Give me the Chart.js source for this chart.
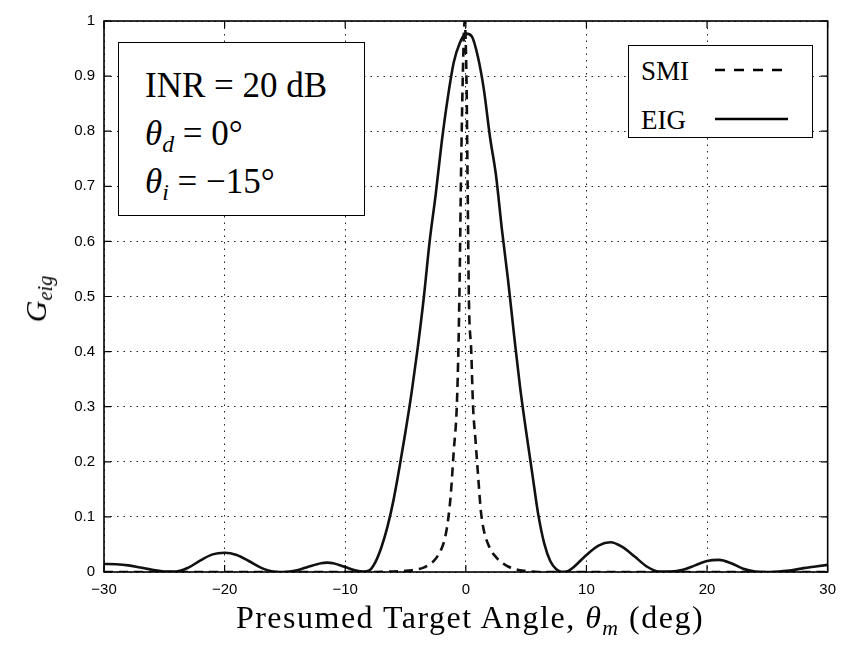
<!DOCTYPE html>
<html>
<head>
<meta charset="utf-8">
<script src="https://cdn.jsdelivr.net/npm/chart.js@4.4.1/dist/chart.umd.min.js"></script>
<style>
  body { margin: 0; background: #fff; }
  #wrap { position: relative; width: 845px; height: 649px; }
  #chart { position: absolute; left: 0; top: 0; }
  .box { position: absolute; background: #fff; border: 1.5px solid #000; box-sizing: border-box; }
  .txt { position: absolute; font-family: "Liberation Serif", "Times New Roman", serif; white-space: nowrap; color: #000; line-height: 1; }
  .txt sub { font-size: 0.68em; vertical-align: -0.3em; line-height: 0; }
</style>
</head>
<body>
<div id="wrap">
  <canvas id="chart" width="845" height="649"></canvas>

  <!-- parameter box, top left -->
  <div class="box" style="left:118px; top:42px; width:247px; height:174px;"></div>
  <div class="txt" style="left:145px; top:68px; font-size:35px;">INR = 20 dB</div>
  <div class="txt" style="left:145px; top:116px; font-size:35px;"><i>θ</i><sub><i>d</i></sub> = 0°</div>
  <div class="txt" style="left:145px; top:164px; font-size:35px;"><i>θ</i><sub><i>i</i></sub> = −15°</div>

  <!-- legend, top right -->
  <div class="box" style="left:628px; top:45px; width:185px; height:93px;"></div>
  <div class="txt" style="left:641px; top:58px; font-size:27px;">SMI</div>
  <div class="txt" style="left:641px; top:107px; font-size:27px;">EIG</div>
  <svg style="position:absolute; left:0; top:0;" width="845" height="649">
    <line x1="715" y1="70" x2="783" y2="70" stroke="#000" stroke-width="2.5" stroke-dasharray="10,9"/>
    <line x1="715" y1="119" x2="788" y2="119" stroke="#000" stroke-width="2.5"/>
  </svg>

  <!-- axis titles -->
  <div class="txt" style="left:0; width:940px; top:601px; font-size:32px; letter-spacing:1.5px; text-align:center;">Presumed Target Angle, <i>θ</i><sub><i>m</i></sub> (deg)</div>
  <div class="txt" style="left:36px; top:299px; font-size:30px; transform:translate(-50%,-50%) rotate(-90deg);"><i>G</i><sub><i>eig</i></sub></div>
</div>

<script>
// G_eig vs presumed target angle
var eigAngles = [-30, -29, -28, -27, -26, -25, -24, -23, -22, -21, -20, -19, -18, -17, -16, -15, -14, -13, -12, -11.5, -11, -10, -9, -8.5,
  -8, -7.5, -7, -6.5, -6, -5.5, -5, -4.5, -4, -3.5, -3, -2.5, -2, -1.5, -1, -0.5, 0, 0.5, 1, 1.5, 2, 2.5, 3, 3.5, 4, 4.5, 5, 5.5, 6, 6.5,
  7, 7.5, 8, 8.5, 9, 10, 11, 12, 13, 14, 15, 16, 17, 18, 19, 20, 21, 22, 23, 24, 25, 26, 27, 28, 29, 30]
var eigValues = [0.0145, 0.014, 0.012, 0.008, 0.004, 0.001, 0.001, 0.008, 0.021, 0.032, 0.035, 0.031, 0.02, 0.008, 0.001, 0.0, 0.003, 0.01, 0.016, 0.017, 0.016, 0.009, 0.002, 0.001,
  0.003, 0.018, 0.045, 0.082, 0.13, 0.19, 0.255, 0.325, 0.405, 0.495, 0.6, 0.685, 0.78, 0.86, 0.925, 0.96, 0.977, 0.972, 0.935, 0.875, 0.79, 0.72, 0.62, 0.53, 0.43, 0.335, 0.255, 0.18, 0.105, 0.052,
  0.02, 0.005, 0.0, 0.002, 0.01, 0.031, 0.048, 0.054, 0.045, 0.028, 0.01, 0.001, 0.001, 0.004, 0.012, 0.02, 0.022, 0.016, 0.006, 0.001, 0.0, 0.001, 0.003, 0.007, 0.01, 0.013]

var smiAngles = [-30, -8, -6, -5, -4.5, -4, -3.5, -3, -2.5, -2, -1.75, -1.5, -1.25, -1, -0.75, -0.6, -0.5, -0.4, -0.25, -0.1, 0.05, 0.15, 0.25,
  0.45, 0.6, 0.8, 1, 1.25, 1.5, 2, 2.5, 3, 3.5, 4, 4.5, 5, 6, 8, 30]
var smiValues = [0, 0, 0.001, 0.002, 0.003, 0.005, 0.008, 0.014, 0.024, 0.043, 0.06, 0.09, 0.14, 0.22, 0.3, 0.42, 0.55, 0.72, 0.9, 1.0, 0.9, 0.7, 0.5,
  0.4, 0.3, 0.24, 0.18, 0.11, 0.075, 0.043, 0.027, 0.017, 0.01, 0.006, 0.003, 0.002, 0, 0, 0]

var xTicks = [-30, -20, -10, 0, 10, 20, 30]
var yTicks = [0, 0.1, 0.2, 0.3, 0.4, 0.5, 0.6, 0.7, 0.8, 0.9, 1]

function toPoints(xs, ys) {
  return xs.map((x, i) => ({ x: x, y: ys[i] }))
}

// matlab style frame with inward ticks
var framePlugin = {
  id: "frame",
  afterDraw: (chart) => {
    var ctx = chart.ctx
    var a = chart.chartArea
    var xs = chart.scales.x
    var ys = chart.scales.y
    ctx.save()
    ctx.strokeStyle = "#000"
    ctx.lineWidth = 1.2
    ctx.beginPath()
    xTicks.forEach((t) => {
      var px = xs.getPixelForValue(t)
      ctx.moveTo(px, a.bottom)
      ctx.lineTo(px, a.bottom - 7)
      ctx.moveTo(px, a.top)
      ctx.lineTo(px, a.top + 7)
    })
    yTicks.forEach((t) => {
      var py = ys.getPixelForValue(t)
      ctx.moveTo(a.left, py)
      ctx.lineTo(a.left + 7, py)
      ctx.moveTo(a.right, py)
      ctx.lineTo(a.right - 7, py)
    })
    ctx.stroke()
    ctx.lineWidth = 1.6
    ctx.strokeRect(a.left, a.top, a.right - a.left, a.bottom - a.top)
    ctx.restore()
  },
}

new Chart(document.getElementById("chart"), {
  type: "line",
  data: {
    datasets: [
      {
        label: "SMI",
        data: toPoints(smiAngles, smiValues),
        borderColor: "#111",
        borderWidth: 2.6,
        borderDash: [9, 6],
        pointRadius: 0,
        cubicInterpolationMode: "monotone",
      },
      {
        label: "EIG",
        data: toPoints(eigAngles, eigValues),
        borderColor: "#111",
        borderWidth: 2.6,
        pointRadius: 0,
        cubicInterpolationMode: "monotone",
      },
    ],
  },
  options: {
    responsive: false,
    animation: false,
    events: [],
    layout: { padding: { left: 0, right: 12, top: 21, bottom: 47 } },
    plugins: { legend: { display: false }, tooltip: { enabled: false } },
    scales: {
      x: {
        type: "linear",
        min: -30,
        max: 30,
        afterBuildTicks: (s) => {
          s.ticks = xTicks.map((v) => ({ value: v }))
        },
        afterFit: (s) => {
          s.height = 30
        },
        ticks: {
          padding: 9,
          color: "#000",
          font: { family: "Liberation Sans", size: 15 },
          callback: (v) => String(v).replace("-", "\u2212"),
        },
        grid: { color: "#222", lineWidth: 1, drawTicks: false },
        border: { display: false, dash: [1.5, 5] },
      },
      y: {
        min: 0,
        max: 1,
        afterBuildTicks: (s) => {
          s.ticks = yTicks.map((v) => ({ value: v }))
        },
        afterFit: (s) => {
          s.width = 104
        },
        ticks: {
          padding: 9,
          color: "#000",
          font: { family: "Liberation Sans", size: 15 },
          callback: (v) => String(Math.round(v * 10) / 10),
        },
        grid: { color: "#222", lineWidth: 1, drawTicks: false },
        border: { display: false, dash: [1.5, 5] },
      },
    },
  },
  plugins: [framePlugin],
})
</script>
</body>
</html>
